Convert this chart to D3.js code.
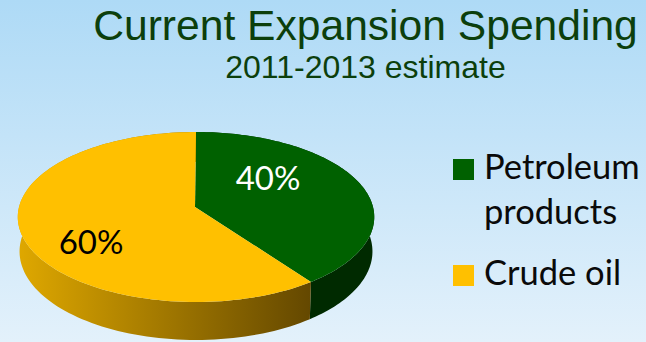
<!DOCTYPE html>
<html>
<head>
<meta charset="utf-8">
<script src="https://cdn.jsdelivr.net/npm/d3@7/dist/d3.min.js"></script>
<style>
html,body{margin:0;padding:0;overflow:hidden;background:#fff}
svg{display:block}
</style>
</head>
<body>
<script>
// Chart content
const titleText = "Current Expansion Spending";
const subtitleText = "2011-2013 estimate";
const categories = ["Petroleum products", "Crude oil"];
const shares = [40, 60];
const legendLines = [["Petroleum", "products"], ["Crude oil"]];

const width = 646, height = 342;
const topColors = d3.scaleOrdinal().domain(categories).range(["#006100", "#ffc000"]);
const labelColors = d3.scaleOrdinal().domain(categories).range(["#ffffff", "#000000"]);

const svg = d3.select("body").append("svg").attr("width", width).attr("height", height);
const defs = svg.append("defs");

const bg = defs.append("linearGradient").attr("id", "bg").attr("x1", 0).attr("x2", 0).attr("y1", 0).attr("y2", 1);
bg.append("stop").attr("offset", "0%").attr("stop-color", "#aedaf6");
bg.append("stop").attr("offset", "100%").attr("stop-color", "#e3f1fb");
svg.append("rect").attr("width", width).attr("height", height).attr("fill", "url(#bg)");

// Side wall shading: a horizontal ramp on the crude oil wall, near-black green on the other
const sideOil = defs.append("linearGradient").attr("id", "side-oil")
  .attr("gradientUnits", "userSpaceOnUse").attr("x1", 18).attr("x2", 310).attr("y1", 0).attr("y2", 0);
sideOil.append("stop").attr("offset", "0%").attr("stop-color", "#dfa800");
sideOil.append("stop").attr("offset", "100%").attr("stop-color", "#644800");
const sideFills = d3.scaleOrdinal().domain(categories).range(["#002a00", "url(#side-oil)"]);

// Tilted-disc projection: turns a pie angle into a point on the foreshortened rim
const cx = 196, apexY = 207, halfW = 177, tilt = -0.1176, yGain = 59.47;
function rim(angle) {
  const u = Math.sin(angle), v = -Math.cos(angle), w = 1 + tilt * v;
  return [cx + halfW * u / w, (yGain * v + apexY) / w];
}
const depth = d3.scaleLinear().domain([-1, 1]).range([30, 38]);
function lowerRim(angle) {
  const [x, y] = rim(angle);
  return [cx + (x - cx) * 0.99, y + depth(-Math.cos(angle))];
}

const pie = d3.pie().sort(null).value(d => d.share);
const slices = pie(categories.map((name, i) => ({ name, share: shares[i] })));
const line = d3.line();
const sweep = (a, b) => d3.range(0, 121).map(i => a + (b - a) * i / 120);

// Side walls first, so the top face covers their hidden parts
svg.append("g").selectAll("path").data(slices).join("path")
  .attr("fill", d => sideFills(d.data.name))
  .attr("d", d => {
    const angles = sweep(d.startAngle, d.endAngle);
    return line(angles.map(rim).concat(angles.slice().reverse().map(lowerRim))) + "Z";
  });

// Top face
svg.append("g").selectAll("path").data(slices).join("path")
  .attr("fill", d => topColors(d.data.name))
  .attr("d", d => line([[cx - 1, apexY]].concat(sweep(d.startAngle, d.endAngle).map(rim))) + "Z");

// Percentage labels
const labelX = d3.scaleOrdinal().domain(categories).range([268, 91]);
const labelY = d3.scaleOrdinal().domain(categories).range([190, 254]);
svg.append("g").selectAll("text").data(slices).join("text")
  .attr("x", d => labelX(d.data.name))
  .attr("y", d => labelY(d.data.name))
  .attr("text-anchor", "middle")
  .attr("font-family", "Lato")
  .attr("font-size", 33)
  .attr("fill", d => labelColors(d.data.name))
  .text(d => d.data.share + "%");

// Headings
svg.append("text").attr("x", 365.5).attr("y", 40).attr("text-anchor", "middle")
  .attr("font-family", "Liberation Sans").attr("font-size", 42.6).attr("fill", "#0c3f0c").text(titleText);
svg.append("text").attr("x", 365.5).attr("y", 78).attr("text-anchor", "middle")
  .attr("font-family", "Liberation Sans").attr("font-size", 32).attr("fill", "#0c3f0c").text(subtitleText);

// Legend
const swatchY = d3.scaleOrdinal().domain(categories).range([159, 265]);
const baselines = [[179, 224], [285]];
const legend = svg.append("g").selectAll("g").data(categories).join("g");
legend.append("rect").attr("x", 453).attr("y", d => swatchY(d)).attr("width", 21).attr("height", 21)
  .attr("fill", d => topColors(d));
legend.each(function (d, i) {
  d3.select(this).selectAll("text").data(legendLines[i]).join("text")
    .attr("x", 484).attr("y", (t, j) => baselines[i][j])
    .attr("font-family", "Lato").attr("font-size", 34.5).attr("fill", "#0a0a0a").text(t => t);
});
</script>
</body>
</html>
